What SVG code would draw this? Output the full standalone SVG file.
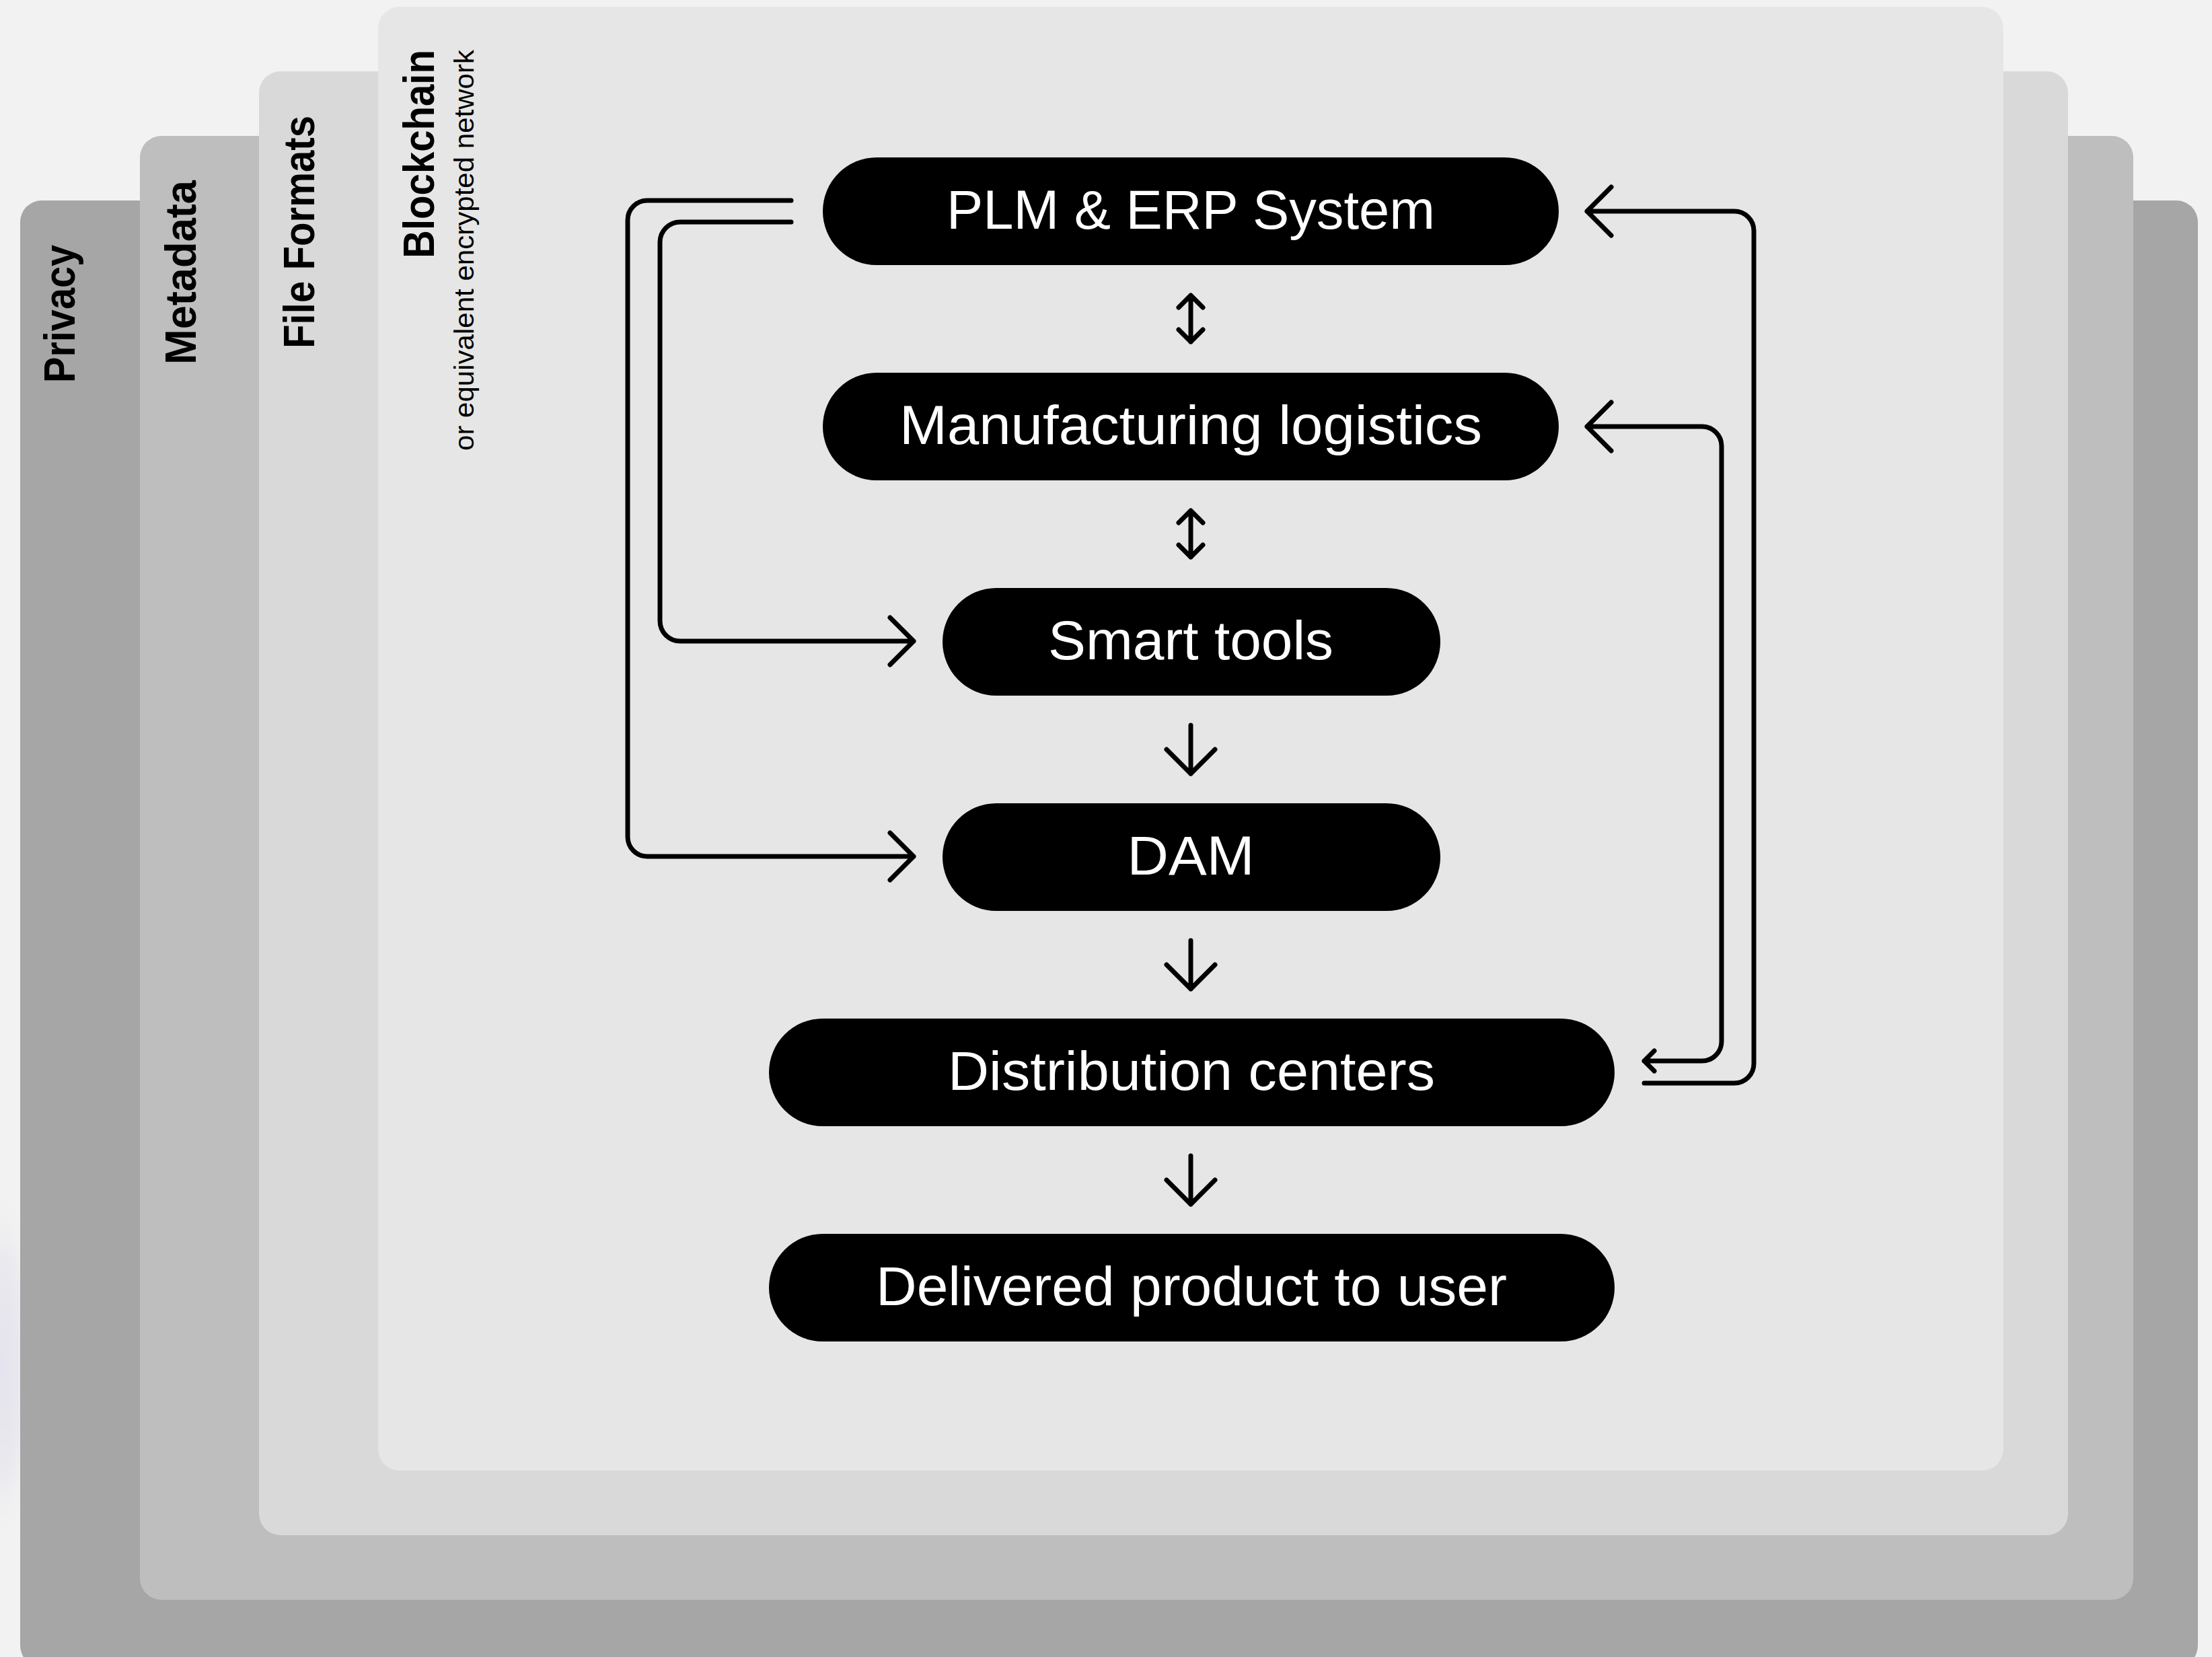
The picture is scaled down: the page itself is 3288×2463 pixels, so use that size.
<svg xmlns="http://www.w3.org/2000/svg" width="3288" height="2463" viewBox="0 0 3288 2463">
  <defs>
    <style>
      .layer-title { font-family: "Liberation Sans", Arial, sans-serif; font-weight: 700; font-size: 64px; fill: #000; }
      .layer-sub { font-family: "Liberation Sans", Arial, sans-serif; font-weight: 400; font-size: 41px; fill: #000; }
      .pill { fill: #000; }
      .pill-text { font-family: "Liberation Sans", Arial, sans-serif; font-size: 82px; fill: #fff; text-anchor: middle; }
      .wire { fill: none; stroke: #000; stroke-width: 7; stroke-linecap: round; stroke-linejoin: round; }
    </style>
    <radialGradient id="edgeGlow" cx="0.5" cy="0.5" r="0.5">
      <stop offset="0" stop-color="#e4e2ec"/>
      <stop offset="0.6" stop-color="#eae9ee"/>
      <stop offset="1" stop-color="#f2f2f2" stop-opacity="0"/>
    </radialGradient>
    <filter id="soft" x="-50%" y="-20%" width="200%" height="140%">
      <feGaussianBlur stdDeviation="6"/>
    </filter>
  </defs>

  <!-- page background -->
  <rect x="0" y="0" width="3288" height="2463" fill="#f2f2f2"/>
  <ellipse cx="4" cy="2030" rx="50" ry="270" fill="url(#edgeGlow)" filter="url(#soft)"/>

  <!-- stacked layers, outermost first -->
  <g id="layer-privacy">
    <rect x="30" y="298" width="3237" height="2180" rx="32" ry="32" fill="#a6a6a6"/>
    <text class="layer-title" transform="translate(111,364) rotate(-90)" text-anchor="end" textLength="205" lengthAdjust="spacingAndGlyphs">Privacy</text>
  </g>
  <g id="layer-metadata">
    <rect x="208" y="202" width="2963" height="2176" rx="32" ry="32" fill="#bebebe"/>
    <text class="layer-title" transform="translate(291,268) rotate(-90)" text-anchor="end" textLength="274" lengthAdjust="spacingAndGlyphs">Metadata</text>
  </g>
  <g id="layer-file-formats">
    <rect x="385" y="106" width="2689" height="2176" rx="32" ry="32" fill="#d9d9d9"/>
    <text class="layer-title" transform="translate(467,172) rotate(-90)" text-anchor="end" textLength="346" lengthAdjust="spacingAndGlyphs">File Formats</text>
  </g>
  <g id="layer-blockchain">
    <rect x="562" y="10" width="2416" height="2176" rx="32" ry="32" fill="#e6e6e6"/>
    <text class="layer-title" transform="translate(645,74) rotate(-90)" text-anchor="end" textLength="310" lengthAdjust="spacingAndGlyphs">Blockchain</text>
    <text class="layer-sub" transform="translate(704,74) rotate(-90)" text-anchor="end" textLength="596" lengthAdjust="spacingAndGlyphs">or equivalent encrypted network</text>
  </g>

  <!-- process steps -->
  <g id="node-plm-erp">
    <rect class="pill" x="1223" y="234" width="1094" height="160" rx="80" ry="80"/>
    <text class="pill-text" x="1770" y="340" textLength="726" lengthAdjust="spacingAndGlyphs">PLM &amp; ERP System</text>
  </g>
  <g id="node-manufacturing">
    <rect class="pill" x="1223" y="554" width="1094" height="160" rx="80" ry="80"/>
    <text class="pill-text" x="1770" y="660" textLength="866" lengthAdjust="spacingAndGlyphs">Manufacturing logistics</text>
  </g>
  <g id="node-smart-tools">
    <rect class="pill" x="1401" y="874" width="740" height="160" rx="80" ry="80"/>
    <text class="pill-text" x="1770" y="980" textLength="424" lengthAdjust="spacingAndGlyphs">Smart tools</text>
  </g>
  <g id="node-dam">
    <rect class="pill" x="1401" y="1194" width="740" height="160" rx="80" ry="80"/>
    <text class="pill-text" x="1770" y="1300" textLength="189" lengthAdjust="spacingAndGlyphs">DAM</text>
  </g>
  <g id="node-distribution">
    <rect class="pill" x="1143" y="1514" width="1257" height="160" rx="80" ry="80"/>
    <text class="pill-text" x="1771" y="1620" textLength="724" lengthAdjust="spacingAndGlyphs">Distribution centers</text>
  </g>
  <g id="node-delivered">
    <rect class="pill" x="1143" y="1834" width="1257" height="160" rx="80" ry="80"/>
    <text class="pill-text" x="1771" y="1940" textLength="938" lengthAdjust="spacingAndGlyphs">Delivered product to user</text>
  </g>

  <!-- connectors -->
  <g id="connectors">
    <!-- PLM <-> Manufacturing -->
    <path class="wire" d="M1770 440 V508 M1752 457 L1770 439 L1788 457 M1752 490 L1770 508 L1788 490"/>
    <!-- Manufacturing <-> Smart tools -->
    <path class="wire" d="M1770 760 V828 M1752 777 L1770 759 L1788 777 M1752 810 L1770 828 L1788 810"/>
    <!-- Smart tools -> DAM -->
    <path class="wire" d="M1770 1078 V1150 M1734 1114 L1770 1150 L1806 1114"/>
    <!-- DAM -> Distribution -->
    <path class="wire" d="M1770 1398 V1470 M1734 1434 L1770 1470 L1806 1434"/>
    <!-- Distribution -> Delivered -->
    <path class="wire" d="M1770 1718 V1790 M1734 1754 L1770 1790 L1806 1754"/>

    <!-- PLM -> DAM (outer left loop) -->
    <path class="wire" d="M1176 298 H962 A29 29 0 0 0 933 327 V1244 A29 29 0 0 0 962 1273 H1358 M1323 1238 L1358 1273 L1323 1308"/>
    <!-- PLM -> Smart tools (inner left loop) -->
    <path class="wire" d="M1176 330 H1011 A30 30 0 0 0 981 360 V923 A30 30 0 0 0 1011 953 H1358 M1323 918 L1358 953 L1323 988"/>

    <!-- Distribution -> PLM (outer right loop) -->
    <path class="wire" d="M2444 1610 H2578 A29 29 0 0 0 2607 1581 V343 A29 29 0 0 0 2578 314 H2359 M2395 278 L2359 314 L2395 350"/>
    <!-- Manufacturing <-> Distribution (inner right loop) -->
    <path class="wire" d="M2444 1577 H2530 A29 29 0 0 0 2559 1548 V663 A29 29 0 0 0 2530 634 H2359 M2395 598 L2359 634 L2395 670 M2459 1562 L2444 1577 L2459 1592"/>
  </g>
</svg>
